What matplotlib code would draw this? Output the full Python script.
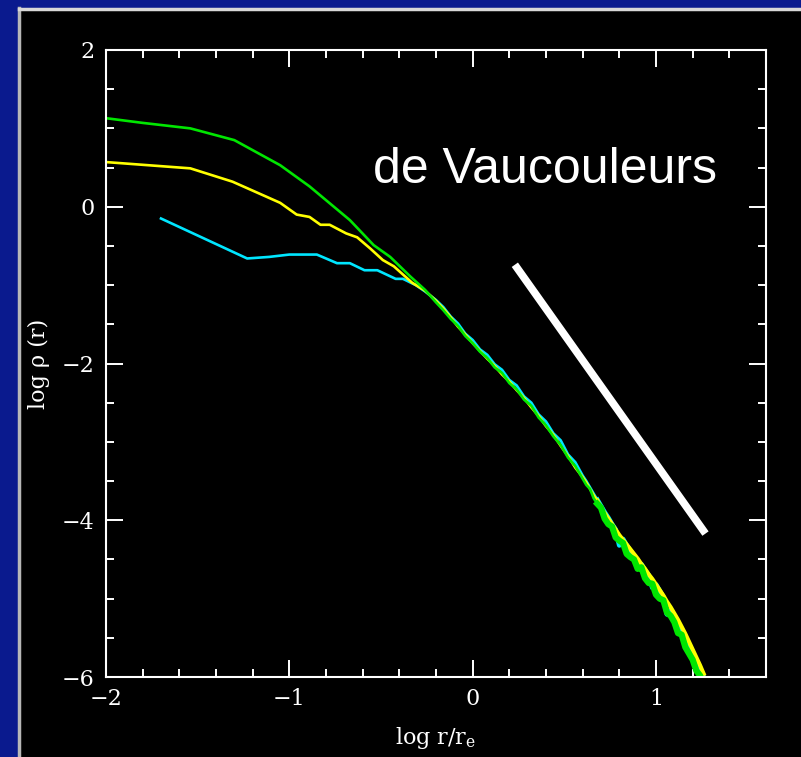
import matplotlib
matplotlib.use('Agg')
import matplotlib.pyplot as plt
from matplotlib.patches import Rectangle
from matplotlib.lines import Line2D

# inner (resolved) parts of the three profiles
green_x = [-2.00, -1.80, -1.54, -1.30, -1.05, -0.89, -0.67, -0.54, -0.45, -0.34, -0.26]
green_y = [1.13, 1.07, 1.00, 0.85, 0.53, 0.26, -0.17, -0.49, -0.64, -0.89, -1.06]

yellow_x = [-2.00, -1.54, -1.31, -1.05, -0.96, -0.89, -0.83, -0.78, -0.69, -0.63,
            -0.56, -0.49, -0.43, -0.33, -0.26]
yellow_y = [0.57, 0.49, 0.32, 0.05, -0.10, -0.13, -0.23, -0.23, -0.34, -0.39,
            -0.53, -0.68, -0.76, -0.97, -1.07]

cyan_x = [-1.70, -1.23, -1.11, -1.00, -0.85, -0.74, -0.67, -0.59, -0.52, -0.42,
          -0.38, -0.31, -0.26]
cyan_y = [-0.15, -0.66, -0.64, -0.61, -0.61, -0.72, -0.72, -0.81, -0.81, -0.92,
          -0.92, -1.00, -1.08]

# outer (noisy) part, common radii
tail_x = [-0.20, -0.16, -0.12, -0.08, -0.04, 0.00, 0.04, 0.08, 0.12, 0.16,
          0.20, 0.24, 0.28, 0.32, 0.36, 0.40, 0.44, 0.48, 0.52, 0.56,
          0.60, 0.62, 0.64, 0.66, 0.68, 0.70, 0.72, 0.74, 0.76, 0.78,
          0.80, 0.82, 0.84, 0.86, 0.88, 0.90, 0.92, 0.94, 0.96, 0.98,
          1.00, 1.02, 1.04, 1.06, 1.08, 1.10, 1.12, 1.14, 1.16, 1.18,
          1.20, 1.22, 1.24, 1.26]

green_tail = [-1.22, -1.32, -1.43, -1.52, -1.65, -1.74, -1.85, -1.93, -2.05, -2.12,
              -2.25, -2.33, -2.46, -2.54, -2.69, -2.79, -2.93, -3.04, -3.20, -3.31,
              -3.47, -3.55, -3.60, -3.72, -3.79, -3.84, -3.98, -4.05, -4.08, -4.22,
              -4.26, -4.29, -4.43, -4.47, -4.50, -4.62, -4.60, -4.74, -4.80, -4.81,
              -4.95, -5.00, -5.02, -5.18, -5.22, -5.30, -5.44, -5.46, -5.62, -5.70,
              -5.78, -5.92, -5.98, -6.08]

yellow_tail = [-1.20, -1.30, -1.41, -1.53, -1.63, -1.74, -1.84, -1.94, -2.03, -2.14,
               -2.23, -2.34, -2.44, -2.56, -2.67, -2.80, -2.91, -3.05, -3.18, -3.33,
               -3.45, -3.52, -3.60, -3.68, -3.75, -3.84, -3.91, -3.98, -4.05, -4.12,
               -4.19, -4.25, -4.31, -4.37, -4.43, -4.49, -4.56, -4.62, -4.69, -4.75,
               -4.82, -4.89, -4.96, -5.04, -5.11, -5.19, -5.27, -5.36, -5.45, -5.55,
               -5.65, -5.75, -5.85, -5.96]

cyan_tail = [-1.19, -1.28, -1.40, -1.49, -1.62, -1.70, -1.82, -1.89, -2.01, -2.08,
             -2.21, -2.28, -2.42, -2.50, -2.65, -2.74, -2.89, -2.98, -3.16, -3.26,
             -3.43, -3.50, -3.58, -3.66, -3.74, -3.82, -3.90, -3.97, -4.05, -4.12,
             -4.32, -4.24, -4.32, -4.39, -4.45, -4.62, -4.56, -4.64, -4.70, -4.86,
             -4.82, -4.90, -4.98, -5.20, -5.14, -5.22, -5.38, -5.40, -5.50, -5.60,
             -5.70, -5.80, -5.90, -6.00]

# r^(1/4) reference slope
ref_x = [0.23, 1.27]
ref_y = [-0.74, -4.17]

x_ticks = [-2, -1, 0, 1]
y_ticks = [-6, -4, -2, 0, 2]

plt.rcParams['font.family'] = 'DejaVu Serif'
plt.rcParams['mathtext.fontset'] = 'dejavuserif'

fig = plt.figure(figsize=(8.01, 7.57), dpi=100)
fig.patch.set_facecolor('#0a1a8e')

# slide panel behind the axes
fig.patches.append(Rectangle((20 / 801, 0), 1, (757 - 10) / 757, transform=fig.transFigure,
                             facecolor='black', edgecolor='none', zorder=-10))
fig.lines.append(Line2D([19 / 801, 19 / 801], [0, (757 - 8) / 757], transform=fig.transFigure,
                        color='#b8b8b8', lw=2.5, zorder=-5))
fig.lines.append(Line2D([19 / 801, 1], [(757 - 8.5) / 757, (757 - 8.5) / 757],
                        transform=fig.transFigure, color='#d8d8d8', lw=2.5, zorder=-5))

ax = fig.add_axes([106 / 801, 80 / 757, 660 / 801, 627 / 757])
ax.set_facecolor('black')
ax.set_zorder(5)

n_out = 30  # points from x = 0.80 outwards, where the profiles get noisy
series = [(cyan_x, cyan_y, cyan_tail, '#00e6ff', 3.5),
          (yellow_x, yellow_y, yellow_tail, '#ffff00', 3.0),
          (green_x, green_y, green_tail, '#00e600', 4.5)]
for xs, ys, tail, col, lw_out in series:
    ax.plot(xs + tail_x, ys + tail, color=col, lw=1.9)
    ax.plot(tail_x[-n_out:], tail[-n_out:], color=col, lw=lw_out)

ax.plot(ref_x, ref_y, color='white', lw=5.5, solid_capstyle='butt')

ax.text(-0.545, 0.30, 'de Vaucouleurs', color='white', fontsize=36,
        family='Liberation Sans', ha='left', va='baseline')

ax.set_xlim(-2, 1.6)
ax.set_ylim(-6, 2)
ax.set_xticks(x_ticks)
ax.set_yticks(y_ticks)
ax.set_xticks([v / 10 for v in range(-18, 16, 2)], minor=True)
ax.set_yticks([v / 2 for v in range(-11, 4)], minor=True)
ax.set_xticklabels(['\u22122', '\u22121', '0', '1'])
ax.set_yticklabels(['\u22126', '\u22124', '\u22122', '0', '2'])

ax.tick_params(which='both', direction='in', top=True, right=True, colors='white',
               labelsize=16, width=1.4)
ax.tick_params(which='major', length=12, pad=8)
ax.tick_params(which='minor', length=6)
for s in ax.spines.values():
    s.set_color('white')
    s.set_linewidth(1.5)

ax.set_xlabel(r'log r/r$_{\rm e}$', color='white', fontsize=16, labelpad=11)
ax.set_ylabel('log \u03c1 (r)', color='white', fontsize=16, labelpad=9)

fig.savefig('out.png', dpi=100, facecolor=fig.get_facecolor())
